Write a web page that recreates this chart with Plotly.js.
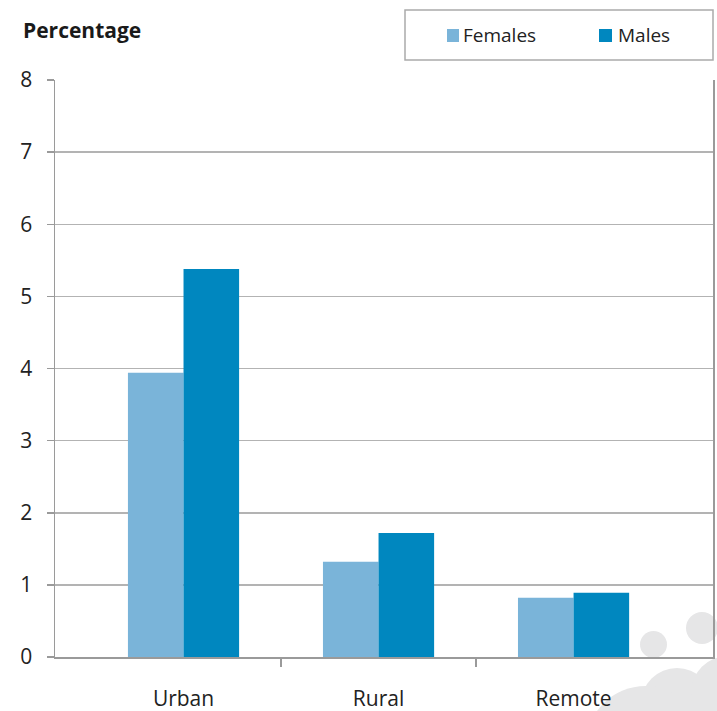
<!DOCTYPE html>
<html>
<head>
<meta charset="utf-8">
<script src="https://cdn.plot.ly/plotly-3.0.1.min.js"></script>
<style>
  html, body { margin: 0; padding: 0; background: #ffffff; }
  #wrap { position: relative; width: 717px; height: 711px; overflow: hidden; }
  .dot { position: absolute; border-radius: 50%; background: #e6e6e7; z-index: 0; }
  #chart { position: absolute; left: 0; top: 0; z-index: 1; }
</style>
</head>
<body>
<div id="wrap">
  <div class="dot" style="left:640px;top:631px;width:27px;height:27px;"></div>
  <div class="dot" style="left:686px;top:612px;width:32px;height:32px;"></div>
  <div class="dot" style="left:641px;top:668px;width:72px;height:72px;"></div>
  <div class="dot" style="left:691px;top:656px;width:74px;height:74px;"></div>
  <div class="dot" style="left:586px;top:686px;width:119px;height:119px;"></div>
  <div id="chart"></div>
</div>
<script>
const categories = ["Urban", "Rural", "Remote"];
const females = [3.94, 1.32, 0.82];
const males = [5.38, 1.72, 0.89];
const seriesNames = ["Females", "Males"];
const seriesColors = ["#7ab4d9", "#0087bf"];
const yTicks = [0, 1, 2, 3, 4, 5, 6, 7, 8];

const idx = categories.map((c, i) => i);
const boundaries = idx.slice(0, -1).map(i => i + 0.5);

const FONT = "'Open Sans', Lato, sans-serif";

// plot area in pixels (for converting legend-box placement to paper coords)
const PL = 55, PR = 713, PT = 80, PB = 657;
const px = v => (v - PL) / (PR - PL);
const py = v => (PB - v) / (PB - PT);

const traces = [
  { type: "bar", name: seriesNames[0], x: idx, y: females,
    marker: { color: seriesColors[0] }, hoverinfo: "y" },
  { type: "bar", name: seriesNames[1], x: idx, y: males,
    marker: { color: seriesColors[1] }, hoverinfo: "y" },
  { type: "scatter", x: boundaries, y: [0, 0], xaxis: "x2", mode: "markers",
    marker: { opacity: 0 }, showlegend: false, hoverinfo: "skip" }
];

// manual legend (box, swatches, labels)
const legendShapes = [
  { type: "rect", xref: "paper", yref: "paper",
    x0: px(405), x1: px(713), y0: py(60), y1: py(10),
    line: { color: "#aaaaaa", width: 1.5 }, fillcolor: "#ffffff", layer: "above" },
  { type: "rect", xref: "paper", yref: "paper",
    x0: px(447), x1: px(459), y0: py(42), y1: py(29),
    line: { width: 0 }, fillcolor: seriesColors[0], layer: "above" },
  { type: "rect", xref: "paper", yref: "paper",
    x0: px(599), x1: px(612), y0: py(42), y1: py(29),
    line: { width: 0 }, fillcolor: seriesColors[1], layer: "above" }
];
const legendLabels = [
  { text: seriesNames[0], xref: "paper", yref: "paper", x: px(461), y: py(35.5),
    xanchor: "left", yanchor: "middle", showarrow: false,
    font: { family: FONT, size: 19, color: "#222222" } },
  { text: seriesNames[1], xref: "paper", yref: "paper", x: px(616), y: py(35.5),
    xanchor: "left", yanchor: "middle", showarrow: false,
    font: { family: FONT, size: 19, color: "#222222" } }
];

const layout = {
  width: 717, height: 711,
  margin: { l: PL, r: 717 - PR, t: PT, b: 711 - PB },
  paper_bgcolor: "rgba(0,0,0,0)",
  plot_bgcolor: "rgba(0,0,0,0)",
  font: { family: FONT, color: "#222222", size: 20 },
  barmode: "group",
  bargap: 0.43,
  bargroupgap: 0,
  showlegend: false,
  title: {
    text: "<b>Percentage</b>",
    font: { family: FONT, size: 21, color: "#1a1a1a" },
    x: 23 / 717, xref: "container", xanchor: "left",
    y: 1 - 31 / 711, yref: "container", yanchor: "middle"
  },
  xaxis: {
    range: [-0.659, 2.715],
    tickmode: "array", tickvals: idx, ticktext: categories,
    ticks: "", ticklabelstandoff: 22,
    showline: true, linecolor: "#9a9a9a", linewidth: 1.5,
    showgrid: false, zeroline: false,
    tickfont: { family: FONT, size: 21, color: "#222222" },
    fixedrange: true
  },
  xaxis2: {
    overlaying: "x", matches: "x", side: "bottom",
    tickmode: "array", tickvals: boundaries,
    ticks: "outside", ticklen: 9, tickwidth: 1.5, tickcolor: "#9a9a9a",
    showticklabels: false, showline: false, showgrid: false, zeroline: false
  },
  yaxis: {
    range: [0, 8],
    tickmode: "array", tickvals: yTicks,
    ticks: "outside", ticklen: 7, tickwidth: 1.5, tickcolor: "#9a9a9a",
    ticklabelstandoff: 10,
    showline: true, linecolor: "#9a9a9a", linewidth: 1.5, mirror: true,
    showgrid: true, gridcolor: "#b3b3b3", gridwidth: 1.5,
    zeroline: false,
    tickfont: { family: FONT, size: 21, color: "#222222" },
    fixedrange: true
  },
  shapes: legendShapes,
  annotations: legendLabels
};

Plotly.newPlot("chart", traces, layout, { displayModeBar: false, staticPlot: true });
</script>
</body>
</html>
